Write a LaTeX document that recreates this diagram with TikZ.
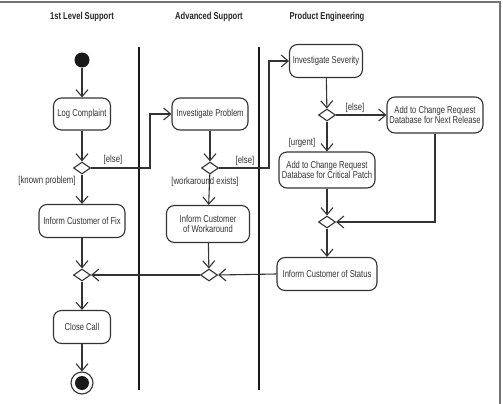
\documentclass[tikz,border=0pt]{standalone}
\usepackage{fontspec}
\setmainfont{Liberation Sans}[FakeStretch=0.76]
\newfontfamily\guardfont{Liberation Sans}[FakeStretch=0.78]
\usetikzlibrary{arrows.meta,shapes.geometric}
\definecolor{ink}{HTML}{333333}
\begin{document}
\begin{tikzpicture}[x=1pt,y=-1pt,
  act/.style={draw=ink,line width=1.1pt,rounded corners=8pt,align=center,inner sep=1pt,text=ink,font=\fontsize{10}{10.5}\selectfont},
  dec/.style={draw=ink,line width=1.1pt,diamond,inner sep=0pt,minimum width=17pt,minimum height=12pt},
  flow/.style={draw=ink,line width=1.1pt,-{Straight Barb[length=7pt,width=12pt,line width=1.1pt]}},
  guard/.style={text=ink,font=\guardfont\fontsize{10}{10}\selectfont,inner sep=0pt},
  head/.style={text=black!85,font=\fontsize{10}{11}\selectfont\bfseries,inner sep=0pt},
  lane/.style={draw=black!90,line width=2.4pt}]
\useasboundingbox (0,0) rectangle (503,404);
\fill[white] (0,0) rectangle (503,404);
\draw[black!55,line width=1.5pt] (0,2) -- (500,2) -- (500,404);

\node[head] (h1) at (82,17) {1st Level Support};
\node[head] (h2) at (209,17) {Advanced Support};
\node[head] (h3) at (327,17) {Product Engineering};

\coordinate (l1a) at (139,47); \coordinate (l1b) at (139,390);
\coordinate (l2a) at (259,47); \coordinate (l2b) at (259,390);
\draw[lane] (l1a) -- (l1b);
\draw[lane] (l2a) -- (l2b);

\node[circle,fill=black!90,minimum size=15pt,inner sep=0pt] (init) at (82,60) {};
\node[act,minimum width=57pt,minimum height=32pt] (log) at (82,114) {Log Complaint};
\node[dec] (d1) at (82,168) {};
\node[act,minimum width=86pt,minimum height=33pt] (fix) at (82,221) {Inform Customer of Fix};
\node[dec] (d6) at (82,275) {};
\node[act,minimum width=57pt,minimum height=33pt] (close) at (82,327) {Close Call};
\node[circle,draw=ink,line width=1.1pt,minimum size=22pt,inner sep=0pt] (final) at (82,383) {};
\node[circle,fill=black!90,minimum size=14pt,inner sep=0pt] (finalin) at (82,383) {};

\node[act,minimum width=76pt,minimum height=32pt] (ip) at (210,114) {Investigate Problem};
\node[dec] (d2) at (210,168) {};
\node[act,minimum width=83pt,minimum height=37pt] (wa) at (208,224) {Inform Customer\\of Workaround};
\node[dec] (d5) at (209,275) {};

\node[act,minimum width=73pt,minimum height=33pt] (is) at (326,61) {Investigate Severity};
\node[dec] (d3) at (327,115) {};
\node[act,minimum width=96pt,minimum height=36pt] (nr) at (435,115) {Add to Change Request\\Database for Next Release};
\node[act,minimum width=96pt,minimum height=36pt] (cp) at (327,170) {Add to Change Request\\Database for Critical Patch};
\node[dec] (d4) at (327,222) {};
\node[act,minimum width=100pt,minimum height=33pt] (st) at (327,274) {Inform Customer of Status};

\coordinate (c1) at (150,168);
\coordinate (c2) at (269,168);

\draw[flow] (init) -- (log);
\draw[flow] (log) -- (d1);
\draw[flow] (d1.east) -- (c1) |- (ip.west);
\draw[flow] (d1) -- (fix);
\draw[flow] (fix) -- (d6);
\draw[flow] (d6) -- (close);
\draw[flow] (close) -- (final);
\draw[flow] (ip) -- (d2);
\draw[flow] (d2.east) -- (c2) |- (is.west);
\draw[flow] (d2) -- (wa);
\draw[flow] (wa) -- (d5);
\draw[flow] (d5.west) -- (d6.east);
\draw[flow] (is) -- (d3);
\draw[flow] (d3.east) -- (nr.west);
\draw[flow] (d3.south) -- (cp.north);
\draw[flow] (cp) -- (d4);
\draw[flow] (nr.south) |- (d4.east);
\draw[flow] (d4) -- (st);
\draw[flow] (st.west) -- (d5.east);

\node[guard] (g1) at (113,160) {[else]};
\node[guard] (g2) at (47,181) {[known problem]};
\node[guard] (g3) at (245,161) {[else]};
\node[guard] (g4) at (205,182) {[workaround exists]};
\node[guard] (g5) at (355,108) {[else]};
\node[guard] (g6) at (302,143) {[urgent]};
\end{tikzpicture}
\end{document}
